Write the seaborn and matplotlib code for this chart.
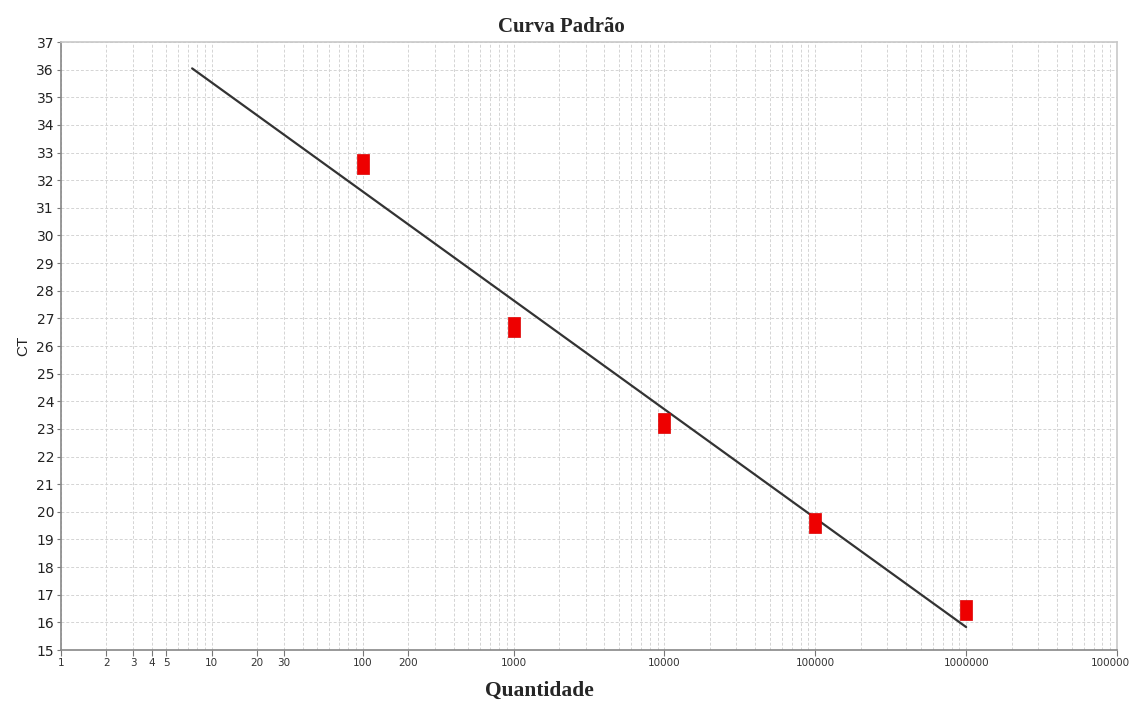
import numpy as np
import pandas as pd
import matplotlib
matplotlib.use("Agg")
import matplotlib.pyplot as plt
from matplotlib.ticker import FixedLocator, LogLocator, NullFormatter
import seaborn as sns

# Standard curve: template quantity vs. threshold cycle
quantidade = [100, 1000, 10000, 100000, 1000000]
ct = [32.6, 26.7, 23.2, 19.6, 16.45]

# Span over which the fitted regression line is drawn
fit_span = [7.4, 1000000]

x_tick_values = [1, 2, 3, 4, 5, 10, 20, 30, 100, 200, 1000, 10000,
                 100000, 1000000, 10000000]
x_tick_labels = ["1", "2", "3", "4", "5", "10", "20", "30", "100", "200",
                 "1000", "10000", "100000", "1000000", "10000000"]
y_ticks = list(range(15, 38))

sns.set_style("white")
plt.rcParams["font.family"] = ["DejaVu Sans"]

fig = plt.figure(figsize=(11.29, 7.02), dpi=100)
ax = fig.add_axes([61 / 1129, 1 - 650 / 702, (1117 - 61) / 1129, (650 - 42) / 702])

# Linear fit of Ct against log10(quantity)
slope, intercept = np.polyfit(np.log10(quantidade), ct, 1)
line_x = np.logspace(np.log10(fit_span[0]), np.log10(fit_span[1]), 50)
line_df = pd.DataFrame({"x": line_x, "y": slope * np.log10(line_x) + intercept})
sns.lineplot(data=line_df, x="x", y="y", color="#333333", linewidth=1.6,
             ax=ax, zorder=3)

# Tall red rectangular markers
rect_marker = [(-0.6, -1), (0.6, -1), (0.6, 1), (-0.6, 1), (-0.6, -1)]
pts = pd.DataFrame({"q": quantidade, "ct": ct})
sns.scatterplot(data=pts, x="q", y="ct", marker=rect_marker, s=225,
                color="#ee0000", edgecolor="#dd0000", linewidth=0.5,
                ax=ax, zorder=4)

ax.set_xscale("log")
ax.set_xlim(1, 1e7)
ax.set_ylim(15, 37)

ax.xaxis.set_major_locator(FixedLocator(x_tick_values))
ax.set_xticklabels(x_tick_labels)
ax.xaxis.set_minor_locator(LogLocator(base=10, subs=np.arange(2, 10), numticks=20))
ax.xaxis.set_minor_formatter(NullFormatter())
ax.set_yticks(y_ticks)
ax.set_yticklabels([str(v) for v in y_ticks])

grid_kw = dict(color="#d4d4d4", linestyle=(0, (3, 2)), linewidth=0.7)
ax.grid(True, which="major", axis="both", **grid_kw)
ax.grid(True, which="minor", axis="x", **grid_kw)
ax.set_axisbelow(True)

ax.tick_params(axis="x", which="major", labelsize=7.5, colors="#777777",
               labelcolor="#333333", length=4, width=0.8, direction="out",
               bottom=True, pad=2)
ax.tick_params(axis="x", which="minor", length=0, bottom=False)
ax.tick_params(axis="y", which="major", labelsize=10, colors="#777777",
               labelcolor="#222222", length=3, width=0.8, direction="out",
               left=True, pad=2)

for side in ["left", "bottom"]:
    ax.spines[side].set_color("#888888")
    ax.spines[side].set_linewidth(1.2)
for side in ["top", "right"]:
    ax.spines[side].set_visible(True)
    ax.spines[side].set_color("#c8c8c8")
    ax.spines[side].set_linewidth(1.2)

ax.set_title("Curva Padrão", fontfamily="Liberation Serif", fontweight="bold",
             fontsize=15, x=0.4735, pad=7)
ax.set_xlabel("Quantidade", fontfamily="Liberation Serif", fontweight="bold",
              fontsize=15.5, labelpad=4)
ax.xaxis.set_label_coords(0.4527, -0.068)
ax.xaxis.label.set_va("center")
ax.set_ylabel("CT", fontfamily="Liberation Sans", fontsize=11, labelpad=4,
              color="#222222")

fig.savefig("out.png", dpi=100, facecolor="white")
